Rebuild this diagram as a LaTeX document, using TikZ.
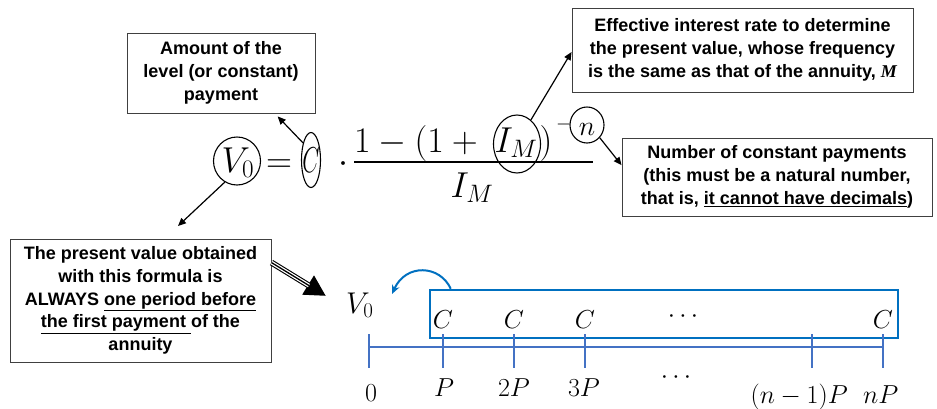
\documentclass[tikz,border=0pt]{standalone}
\usepackage{fix-cm}
\usepackage{fontspec}
\newfontfamily\boxfont{Liberation Sans}
\newfontfamily\serifbi{Liberation Serif}
\usetikzlibrary{shapes.geometric,arrows.meta,calc}
\definecolor{rectblue}{RGB}{0,112,192}
\definecolor{lineblue}{RGB}{68,114,196}
\begin{document}
\begin{tikzpicture}[x=1pt,y=-1pt,
  txtbox/.style={draw=black!75, line width=0.9pt, inner sep=0pt, align=center,
    font=\boxfont\bfseries\fontsize{18}{22.8}\selectfont},
  mathbig/.style={font=\fontsize{36}{40}\selectfont, inner sep=0pt},
  mathmid/.style={font=\fontsize{26}{30}\selectfont, inner sep=0pt},
  circ/.style={draw, ellipse, line width=1.1pt, inner sep=0pt},
  thinarrow/.style={line width=1.2pt, -{Triangle[length=8pt,width=7pt]}},
  tickline/.style={lineblue, line width=2.5pt},
]
\useasboundingbox (0,0) rectangle (937,408);

% text boxes
\node[txtbox, minimum width=188pt, minimum height=80pt] (b1) at (221,73)
  {Amount of the\\level (or constant)\\payment};
\node[txtbox, minimum width=341pt, minimum height=84pt] (b2) at (742.5,50)
  {Effective interest rate to determine\\the present value, whose frequency\\is the same as that of the annuity, {\serifbi\bfseries\itshape M}};
\node[txtbox, minimum width=310pt, minimum height=78pt] (b3) at (777,177)
  {Number of constant payments\\(this must be a natural number,\\that is, \underline{it cannot have decimals})};
\node[txtbox, minimum width=261pt, minimum height=123pt] (b4) at (140.5,300.5)
  {The present value obtained\\with this formula is\\ALWAYS \underline{one period before}\\\underline{the first payment\ }of the\\annuity};

% formula
\node[mathbig, anchor=base] (V0) at (238,172) {$V_0$};
\node[mathbig, anchor=base] (eq) at (279,172) {$=$};
\node[mathbig, anchor=base] (Cf) at (311,172) {\scalebox{0.62}[1]{$C$}};
\node[mathbig, anchor=base] (dt) at (343,172) {$\cdot$};
\node[mathbig, anchor=base west] (num) at (354,152) {$1-(1+{}$};
\node[mathbig, anchor=base] (IMn) at (516,152) {$I_M$};
\node[mathbig, anchor=base] (rp) at (546,152) {$)$};
\node[font=\fontsize{20}{24}\selectfont, inner sep=0pt] (mn) at (564,124) {$-$};
\node[font=\fontsize{28}{32}\selectfont, inner sep=0pt, anchor=base] (nn) at (587,135) {$n$};
\node[mathbig, anchor=base] (den) at (472,197) {$I_M$};
\draw[line width=2.2pt] (354,162) -- (593,162);

% circles
\node[circ, minimum width=47pt, minimum height=48pt] (eV) at (237,161) {};
\node[circ, minimum width=19pt, minimum height=55pt] (eC) at (311,160) {};
\node[circ, minimum width=47pt, minimum height=58pt] (eI) at (517,144) {};
\node[circ, minimum width=34pt, minimum height=36pt] (en) at (587,125) {};

% thin arrows
\draw[thinarrow] (eC.115) -- ($(b1.south west)!0.8!(b1.south east)+(0,3)$);
\draw[thinarrow] (eI.60) -- ($(b2.west)+(0,2)$);
\draw[thinarrow] (en.-45) -- ($(b3.north west)!0.35!(b3.south west)$);
\coordinate (vend) at (178,226);
\draw[thinarrow] (eV.240) -- (vend);

% triple-line arrow
\coordinate (dstart) at ($(b4.north east)+(0,24)$);
\coordinate (dtip) at (326,296);
\draw[line width=6pt, -{Triangle[length=21pt,width=21pt]}] (dstart) -- (dtip);
\draw[white, line width=3.8pt, shorten >=20pt] (dstart) -- (dtip);
\draw[line width=1.3pt, shorten >=20pt] (dstart) -- (dtip);

% timeline
\node[font=\fontsize{30}{34}\selectfont, inner sep=0pt, anchor=base west] (V0t) at (346,313) {$V_0$};
\node[draw=rectblue, line width=2.5pt, minimum width=468pt, minimum height=48pt, inner sep=0pt] (rect) at (664,314) {};
\coordinate (cs) at ($(rect.north west)+(22,0)$);
\coordinate (ce) at (392,294);
\draw[rectblue, line width=2pt, -{Stealth[length=9pt,width=8pt]}] (cs) .. controls (440,265) and (406,263) .. (ce);

\coordinate (t0) at (369,347);
\coordinate (t1) at (443,347);
\coordinate (t2) at (514,347);
\coordinate (t3) at (585,347);
\coordinate (t4) at (812,347);
\coordinate (t5) at (883,347);
\draw[tickline] (t0) -- (t5);
\foreach \t in {t0,t1,t2,t3,t4,t5}
  \draw[tickline] ($(\t)+(0,-13)$) -- ($(\t)+(0,21)$);

\node[mathmid, anchor=base] (c1) at (443,328) {$C$};
\node[mathmid, anchor=base] (c2) at (514,328) {$C$};
\node[mathmid, anchor=base] (c3) at (585,328) {$C$};
\node[mathmid] (cd) at (683,317) {$\cdots$};
\node[mathmid, anchor=base] (c5) at (883,328) {$C$};

\node[mathmid, anchor=base] (l0) at (371,401) {$0$};
\node[mathmid, anchor=base] (l1) at (444,396) {$P$};
\node[mathmid, anchor=base] (l2) at (514,396) {$2P$};
\node[mathmid, anchor=base] (l3) at (584,396) {$3P$};
\node[mathmid] (ld) at (676,378) {$\cdots$};
\node[mathmid, anchor=base east] (l4) at (848,403) {$(n-1)P$};
\node[mathmid, anchor=base west] (l5) at (863,403) {$nP$};
\end{tikzpicture}
\end{document}
